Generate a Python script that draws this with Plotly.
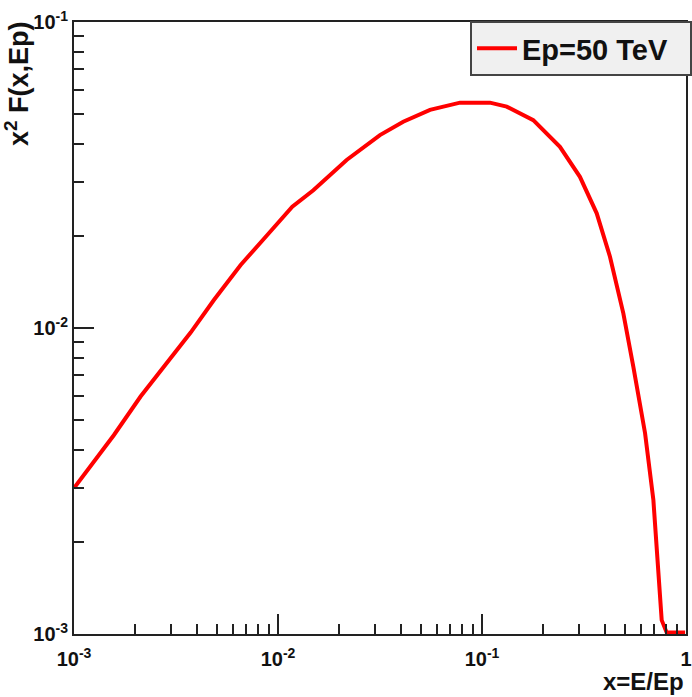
import plotly.graph_objects as go

# Data (x = E/Ep, y = x^2 F(x,Ep))
x_vals = [0.00100, 0.00157, 0.00212, 0.00286, 0.00373, 0.00485, 0.00656, 0.00886,
          0.01175, 0.0149, 0.0217, 0.0316, 0.0411, 0.0556, 0.0780, 0.1094,
          0.1321, 0.1784, 0.241, 0.302, 0.365, 0.424, 0.493, 0.552,
          0.630, 0.692, 0.731, 0.760, 0.804, 0.99]
y_vals = [0.00300, 0.00447, 0.00597, 0.00767, 0.00966, 0.01234, 0.01607, 0.02013,
          0.0249, 0.0282, 0.0354, 0.0427, 0.0472, 0.0516, 0.0545, 0.0545,
          0.0529, 0.0478, 0.0391, 0.0312, 0.0237, 0.0171, 0.01117, 0.00747,
          0.00453, 0.00274, 0.00166, 0.00111, 0.001012, 0.001012]

series_name = "Ep=50 TeV"
x_tick_vals = [1e-3, 1e-2, 1e-1, 1]
x_tick_text = ["10<sup>-3</sup>", "10<sup>-2</sup>", "10<sup>-1</sup>", "1"]
y_tick_vals = [1e-3, 1e-2, 1e-1]
y_tick_text = ["10<sup>-3</sup>", "10<sup>-2</sup>", "10<sup>-1</sup>"]

FONT = "Liberation Sans, Arial, Helvetica, sans-serif"

fig = go.Figure()
fig.add_trace(go.Scatter(
    x=x_vals, y=y_vals, mode="lines", name=series_name,
    line=dict(color="#ff0000", width=4),
))

axis_common = dict(
    type="log",
    showgrid=False,
    zeroline=False,
    showline=True,
    linecolor="#222222",
    linewidth=2,
    mirror=True,
    ticks="inside",
    ticklen=20,
    tickwidth=1.5,
    tickcolor="#222222",
    tickfont=dict(family=FONT, size=20, color="#111111", weight="bold"),
    minor=dict(ticks="inside", ticklen=10, tickwidth=1.5, tickcolor="#222222",
               dtick="D1", showgrid=False),
    automargin=False,
)

fig.update_xaxes(**axis_common, range=[-3, 0], tickmode="array",
                 tickvals=x_tick_vals, ticktext=x_tick_text, ticklabelstandoff=6)
fig.update_yaxes(**axis_common, range=[-3, -1], tickmode="array",
                 tickvals=y_tick_vals, ticktext=y_tick_text, ticklabelstandoff=0)

fig.update_layout(
    width=692, height=697, autosize=False,
    margin=dict(l=74, r=6, t=22, b=63, pad=0, autoexpand=False),
    paper_bgcolor="white", plot_bgcolor="white",
    font=dict(family=FONT, color="#111111"),
    showlegend=True,
    legend=dict(
        xref="container", yref="container",
        x=1.0, xanchor="right", y=1 - 21 / 697, yanchor="top",
        orientation="h", entrywidth=163, entrywidthmode="pixels",
        bgcolor="#f0f0f0", bordercolor="#444444", borderwidth=2,
        font=dict(family=FONT, size=29, color="#111111", weight="bold"),
        itemwidth=40,
    ),
    annotations=[
        dict(text="x=E/Ep", xref="paper", yref="paper", x=1.0, y=-63 / 612,
             xanchor="right", yanchor="bottom", showarrow=False,
             font=dict(family=FONT, size=24, color="#111111", weight="bold")),
        dict(text="x<sup>2</sup> F(x,Ep)", xref="paper", yref="paper",
             x=-0.062, y=1.004, xanchor="right", yanchor="top", textangle=-90,
             showarrow=False,
             font=dict(family=FONT, size=27, color="#111111", weight="bold")),
    ],
)

fig.write_html("out.html")
